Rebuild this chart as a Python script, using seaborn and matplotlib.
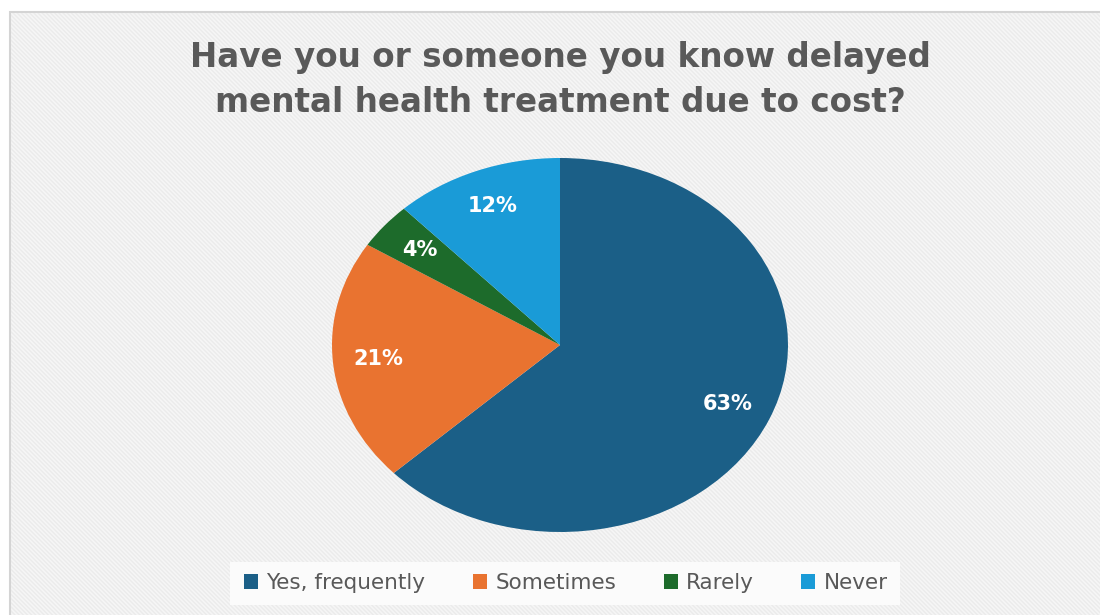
import matplotlib
matplotlib.use("Agg")
import matplotlib.pyplot as plt
import seaborn as sns
from matplotlib.patches import Rectangle

categories = ["Yes, frequently", "Sometimes", "Rarely", "Never"]
values = [63, 21, 4, 12]
colors_hex = ["#1b5f87", "#e97330", "#1d6b2b", "#1a9bd7"]
title = "Have you or someone you know delayed\nmental health treatment due to cost?"

sns.set_theme(style="white")
plt.rcParams["font.family"] = ["DejaVu Sans"]
plt.rcParams["hatch.linewidth"] = 1.0
palette = sns.color_palette(colors_hex)

fig = plt.figure(figsize=(11, 6.15), dpi=100)
fig.patch.set_facecolor("white")

# chart area background with frame and diagonal stripes
bg = Rectangle((10 / 1100, -0.05), 1.1, 1 - 12 / 615 + 0.05, transform=fig.transFigure,
               facecolor="#f6f6f6", edgecolor="#d4d4d4", linewidth=1.5, zorder=0)
fig.patches.append(bg)
hb = Rectangle((11 / 1100, -0.05), 1.1, 1 - 13 / 615 + 0.05, transform=fig.transFigure,
               facecolor="none", edgecolor="#ebebeb", linewidth=0, hatch="\\\\\\\\\\\\\\\\", zorder=0)
fig.patches.append(hb)

fig.text(560 / 1100, 1 - 80 / 615, title, ha="center", va="center", fontsize=23.5,
         fontweight="heavy", color="#595959", linespacing=1.5, zorder=3)

ax = fig.add_axes([332 / 1100, 1 - 532 / 615, 456 / 1100, 374 / 615])
ax.set_zorder(3)
wedges, texts, autotexts = ax.pie(
    values, colors=palette, startangle=90, counterclock=False,
    autopct=lambda p: f"{p:.0f}%", pctdistance=0.8,
    wedgeprops=dict(linewidth=0),
    textprops=dict(color="white", fontsize=15, fontweight="bold"),
)
ax.set_aspect("auto")
ax.set_xlim(-1, 1)
ax.set_ylim(-1, 1)
ax.axis("off")

# legend box
lb = Rectangle((230 / 1100, 1 - 605 / 615), 670 / 1100, 43 / 615, transform=fig.transFigure,
               facecolor="#fbfbfb", edgecolor="none", zorder=1)
fig.patches.append(lb)
leg = fig.legend(wedges, categories, loc="center", bbox_to_anchor=(566 / 1100, 1 - 583 / 615),
                 ncol=4, frameon=False, fontsize=15.5, handlelength=0.65, handleheight=0.65,
                 handletextpad=0.4, columnspacing=2.2, labelcolor="#595959")
leg.set_zorder(4)
for h in leg.legend_handles:
    h.set_edgecolor("none")

fig.savefig("out.png", dpi=100)
